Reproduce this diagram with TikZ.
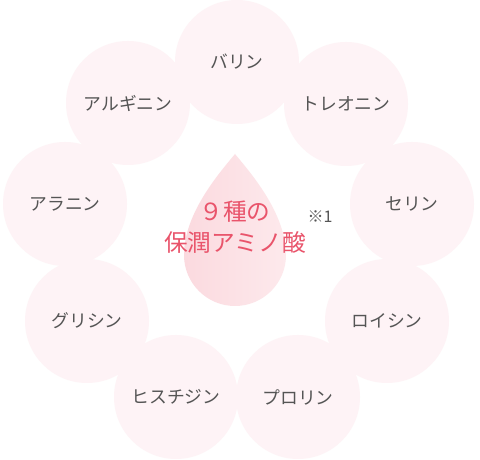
\documentclass[tikz,border=0pt]{standalone}
\usepackage{fontspec}
\setmainfont{Noto Sans CJK JP}
\newfontfamily\jpfont{Noto Sans CJK JP}
\definecolor{circfill}{RGB}{254,243,246}
\definecolor{labelgrey}{RGB}{85,85,85}
\definecolor{titlepink}{RGB}{233,84,107}
\definecolor{dropleft}{RGB}{251,218,223}
\definecolor{dropright}{RGB}{253,233,236}
\tikzset{
  acid/.style={circle, fill=circfill, draw=none, minimum size=124pt, inner sep=0pt,
    text=labelgrey, font=\jpfont\fontsize{17.8}{19}\selectfont},
  title/.style={text=titlepink, font=\jpfont\fontsize{23.7}{26}\selectfont, inner sep=0pt},
  note/.style={text=labelgrey, font=\jpfont\fontsize{16}{18}\selectfont, inner sep=0pt}
}
\begin{document}
\begin{tikzpicture}[x=1pt,y=1pt]
\useasboundingbox (0,0) rectangle (480,460);
\fill[white] (0,0) rectangle (480,460);
\node[acid] (valine) at (237,398) {バリン};
\node[acid] (threonine) at (346,356) {トレオニン};
\node[acid] (arginine) at (128,357) {アルギニン};
\node[acid] (serine) at (412,256) {セリン};
\node[acid] (alanine) at (65,256) {アラニン};
\node[acid] (leucine) at (387,139) {ロイシン};
\node[acid] (glycine) at (87,139) {グリシン};
\node[acid] (proline) at (298,63) {プロリン};
\node[acid] (histidine) at (176,63) {ヒスチジン};
\shade[left color=dropleft, right color=dropright]
  (235,306) .. controls (222,290) and (184,248) .. (184,205)
  arc[start angle=180, end angle=360, radius=51pt]
  .. controls (286,248) and (248,290) .. (235,306) -- cycle;
\node[title] (t1) at (235,248) {９種の};
\node[title] (t2) at (235,218) {保潤アミノ酸};
\node[note] (n1) at (320,243) {※1};
\end{tikzpicture}
\end{document}
